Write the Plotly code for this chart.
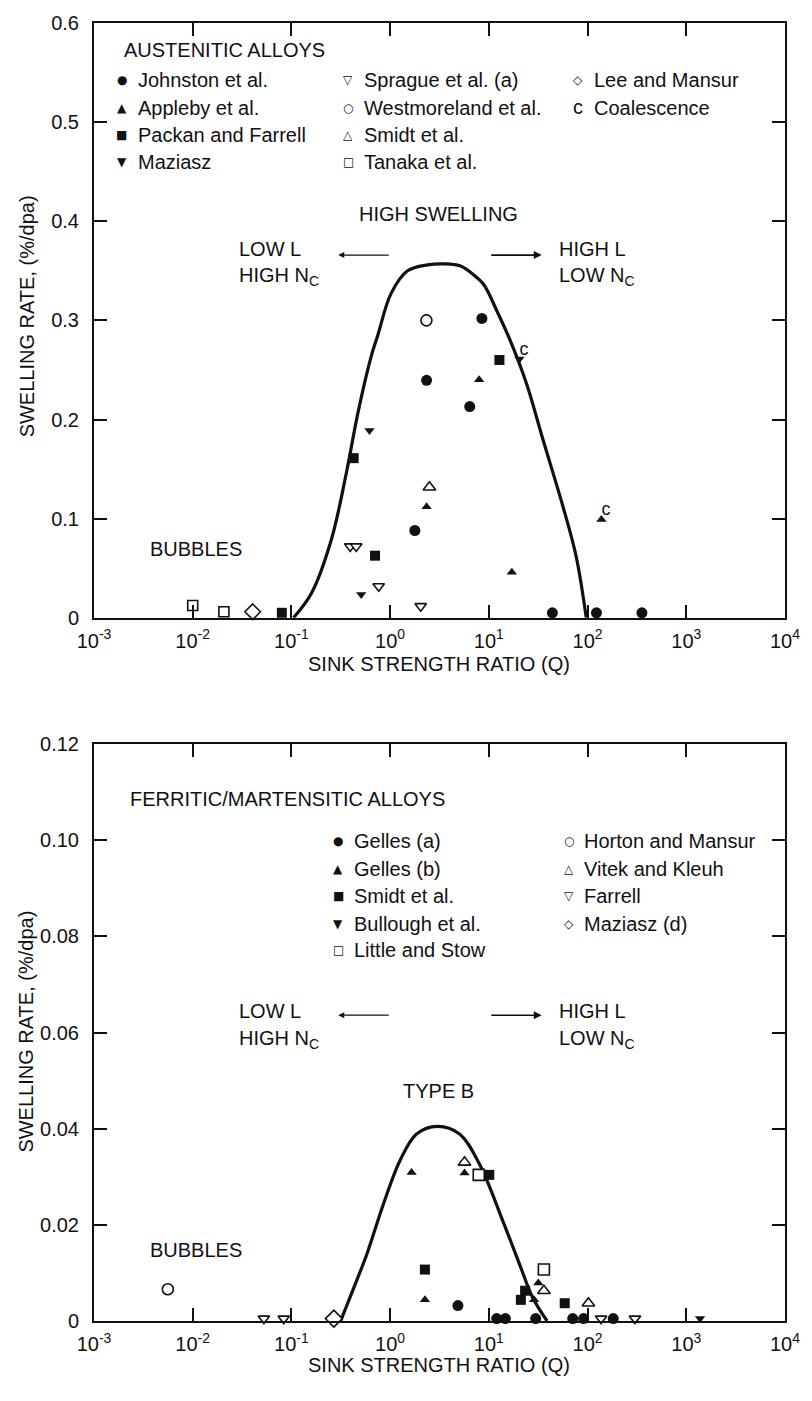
import plotly.graph_objects as go

# ---------------- Austenitic alloys (upper panel) ----------------
johnston_q = [1.78, 2.34, 6.4, 8.5, 44, 123, 355]
johnston_y = [0.088, 0.2395, 0.213, 0.302, 0.005, 0.005, 0.005]
appleby_q = [2.34, 7.97, 17.1, 138]
appleby_y = [0.112, 0.24, 0.046, 0.099]
packan_q = [0.08, 0.427, 0.703, 12.8]
packan_y = [0.005, 0.161, 0.0626, 0.26]
maziasz_q = [0.509, 0.618, 20.4]
maziasz_y = [0.0234, 0.189, 0.261]
sprague_q = [0.394, 0.453, 0.766, 2.04]
sprague_y = [0.072, 0.072, 0.0318, 0.0117]
westmoreland_q = [2.33]
westmoreland_y = [0.30]
smidt_a_q = [2.5]
smidt_a_y = [0.1317]
tanaka_q = [0.01, 0.0207]
tanaka_y = [0.0124, 0.006]
lee_q = [0.0405]
lee_y = [0.006]
coalescence_q = [20.4, 138]
coalescence_y = [0.261, 0.099]

high_swelling_q = [0.105, 0.16, 0.254, 0.36, 0.47, 0.64, 0.75, 1.02, 1.5, 2.4,
                   3.5, 5.1, 7.0, 8.9, 12.0, 16.4, 24.1, 35.5, 56.4, 76.6, 97]
high_swelling_y = [0, 0.025, 0.079, 0.146, 0.206, 0.263, 0.285, 0.327, 0.35, 0.356,
                   0.357, 0.355, 0.346, 0.336, 0.31, 0.28, 0.236, 0.179, 0.112, 0.062, 0.0]

# ---------------- Ferritic/martensitic alloys (lower panel) ----------------
gelles_a_q = [4.86, 12, 14.7, 29.8, 70.7, 91.2, 182]
gelles_a_y = [0.0032, 0.0005, 0.0005, 0.0005, 0.0005, 0.0005, 0.0005]
gelles_b_q = [1.65, 2.25, 5.67, 28.7, 31.7]
gelles_b_y = [0.0309, 0.0044, 0.0308, 0.0044, 0.0079]
smidt_b_q = [2.25, 10.1, 21.1, 23.3, 58.7]
smidt_b_y = [0.0107, 0.0304, 0.0044, 0.0063, 0.0037]
bullough_q = [1380]
bullough_y = [0.0005]
little_q = [7.9, 36.1]
little_y = [0.0304, 0.0107]
horton_q = [0.0056]
horton_y = [0.0066]
vitek_q = [5.67, 36.1, 102]
vitek_y = [0.0330, 0.0063, 0.0037]
farrell_q = [0.0526, 0.0835, 137, 302]
farrell_y = [0.0005, 0.0005, 0.0005, 0.0005]
maziasz_d_q = [0.269]
maziasz_d_y = [0.0005]

type_b_q = [0.315, 0.428, 0.583, 0.857, 1.26, 1.85, 3.0, 5.05, 8.0, 13.8, 20.3, 27.6, 38.9]
type_b_y = [0, 0.0069, 0.014, 0.0244, 0.0334, 0.0389, 0.0405, 0.0389, 0.0327, 0.0209,
            0.012, 0.005, 0]

decades = [-3, -2, -1, 0, 1, 2, 3, 4]
decade_labels = [f"10<sup>{d}</sup>" for d in decades]
top_yticks = [0, 0.1, 0.2, 0.3, 0.4, 0.5, 0.6]
top_ylabels = ["0", "0.1", "0.2", "0.3", "0.4", "0.5", "0.6"]
bot_yticks = [0, 0.02, 0.04, 0.06, 0.08, 0.10, 0.12]
bot_ylabels = ["0", "0.02", "0.04", "0.06", "0.08", "0.10", "0.12"]

FONT = "Liberation Sans, Arial, sans-serif"
INK = "#111111"
FS = 20

W, H = 812, 1401
ML, MR, MT, MB = 94, 22, 18, 80


def px(x):
    return (x - ML) / (W - ML - MR)


def py(y):
    return (H - MB - y) / (H - MT - MB)


fig = go.Figure()

FILLED = dict(color=INK)
OPEN = dict(color="white", line=dict(color=INK, width=1.6))


def pts(q, y, symbol, size, style, xa="x", ya="y"):
    m = dict(symbol=symbol, size=size, **style)
    fig.add_trace(go.Scatter(x=q, y=y, mode="markers", marker=m,
                             xaxis=xa, yaxis=ya, showlegend=False, cliponaxis=False))


# curves first so markers sit on top
fig.add_trace(go.Scatter(x=high_swelling_q, y=high_swelling_y, mode="lines",
                         line=dict(color=INK, width=3.2, shape="spline", smoothing=1.0),
                         xaxis="x", yaxis="y", showlegend=False))
fig.add_trace(go.Scatter(x=type_b_q, y=type_b_y, mode="lines",
                         line=dict(color=INK, width=3.2, shape="spline", smoothing=1.0),
                         xaxis="x2", yaxis="y2", showlegend=False))

pts(johnston_q, johnston_y, "circle", 11, FILLED)
pts(appleby_q, appleby_y, "triangle-up", 9, FILLED)
pts(packan_q, packan_y, "square", 10, FILLED)
pts(maziasz_q, maziasz_y, "triangle-down", 9, FILLED)
pts(sprague_q, sprague_y, "triangle-down", 10, OPEN)
pts(westmoreland_q, westmoreland_y, "circle", 11, OPEN)
pts(smidt_a_q, smidt_a_y, "triangle-up", 11, OPEN)
pts(tanaka_q, tanaka_y, "square", 10, OPEN)
pts(lee_q, lee_y, "diamond", 12, OPEN)
fig.add_trace(go.Scatter(x=coalescence_q, y=coalescence_y, mode="text", text=["c", "c"],
                         textposition="top right",
                         textfont=dict(family=FONT, size=18, color=INK),
                         xaxis="x", yaxis="y", showlegend=False))

pts(gelles_a_q, gelles_a_y, "circle", 11, FILLED, "x2", "y2")
pts(gelles_b_q, gelles_b_y, "triangle-up", 9, FILLED, "x2", "y2")
pts(smidt_b_q, smidt_b_y, "square", 10, FILLED, "x2", "y2")
pts(bullough_q, bullough_y, "triangle-down", 9, FILLED, "x2", "y2")
pts(little_q, little_y, "square", 11, OPEN, "x2", "y2")
pts(horton_q, horton_y, "circle", 11, OPEN, "x2", "y2")
pts(vitek_q, vitek_y, "triangle-up", 11, OPEN, "x2", "y2")
pts(farrell_q, farrell_y, "triangle-down", 10, OPEN, "x2", "y2")
pts(maziasz_d_q, maziasz_d_y, "diamond", 13, OPEN, "x2", "y2")

annotations = []


def text(x, y, s, size=FS, anchor="left", angle=0):
    annotations.append(dict(x=px(x), y=py(y), xref="paper", yref="paper", text=s,
                            showarrow=False, xanchor=anchor, yanchor="middle",
                            textangle=angle, font=dict(family=FONT, size=size, color=INK)))


def glyph(x, y, s, size=12):
    annotations.append(dict(x=px(x), y=py(y), xref="paper", yref="paper", text=s,
                            showarrow=False, xanchor="center", yanchor="middle",
                            font=dict(family="DejaVu Sans", size=size, color=INK)))


def arrow(x_head, x_tail, y, width=1.5):
    annotations.append(dict(x=px(x_head), y=py(y), xref="paper", yref="paper", text="",
                            showarrow=True, arrowhead=2, arrowsize=1.0, arrowwidth=width,
                            arrowcolor=INK, ax=x_tail - x_head, ay=0))


# upper panel text
text(122, 45, "AUSTENITIC ALLOYS")
top_legend = [
    (122, 136, 75, "●", "Johnston et al."),
    (122, 136, 103, "▲", "Appleby et al."),
    (122, 136, 130, "■", "Packan and Farrell"),
    (122, 136, 158, "▼", "Maziasz"),
    (350, 364, 75, "▽", "Sprague et al. (a)"),
    (350, 364, 103, "○", "Westmoreland et al."),
    (350, 364, 130, "△", "Smidt et al."),
    (350, 364, 158, "□", "Tanaka et al."),
    (582, 596, 75, "◇", "Lee and Mansur"),
]
for gx, tx, ty, g, s in top_legend:
    glyph(gx, ty, g)
    text(tx, ty, s)
text(582, 102, "c", anchor="center")
text(596, 103, "Coalescence")
text(441, 210, "HIGH SWELLING", anchor="center")
text(238, 245, "LOW L")
text(238, 272, "HIGH N<sub>C</sub>")
text(560, 245, "HIGH L")
text(560, 272, "LOW N<sub>C</sub>")
arrow(340, 392, 251, 1.2)
arrow(545, 493, 251, 1.6)
text(148, 546, "BUBBLES")
text(26, 312, "SWELLING RATE, (%/dpa)", anchor="center", angle=-90)
text(441, 661, "SINK STRENGTH RATIO (Q)", anchor="center")

# lower panel text
text(128, 797, "FERRITIC/MARTENSITIC ALLOYS")
bot_legend = [
    (340, 354, 839, "●", "Gelles (a)"),
    (340, 354, 867, "▲", "Gelles (b)"),
    (340, 354, 894, "■", "Smidt et al."),
    (340, 354, 922, "▼", "Bullough et al."),
    (340, 354, 949, "□", "Little and Stow"),
    (572, 586, 839, "○", "Horton and Mansur"),
    (572, 586, 867, "△", "Vitek and Kleuh"),
    (572, 586, 894, "▽", "Farrell"),
    (572, 586, 922, "◇", "Maziasz (d)"),
]
for gx, tx, ty, g, s in bot_legend:
    glyph(gx, ty, g)
    text(tx, ty, s)
text(238, 1010, "LOW L")
text(238, 1038, "HIGH N<sub>C</sub>")
text(560, 1010, "HIGH L")
text(560, 1038, "LOW N<sub>C</sub>")
arrow(340, 392, 1014, 1.2)
arrow(545, 493, 1014, 1.6)
text(441, 1090, "TYPE B", anchor="center")
text(148, 1250, "BUBBLES")
text(26, 1030, "SWELLING RATE, (%/dpa)", anchor="center", angle=-90)
text(441, 1365, "SINK STRENGTH RATIO (Q)", anchor="center")

axis_common = dict(showgrid=False, zeroline=False, showline=True, linecolor=INK,
                   linewidth=2, mirror="ticks", ticks="inside", ticklen=13,
                   tickwidth=1.5, tickcolor=INK,
                   tickfont=dict(family=FONT, size=FS, color=INK))

fig.update_layout(
    width=W, height=H,
    margin=dict(l=ML, r=MR, t=MT, b=MB),
    paper_bgcolor="white", plot_bgcolor="white",
    showlegend=False,
    annotations=annotations,
    xaxis=dict(type="log", range=[-3, 4], tickvals=[10 ** d for d in decades],
               ticktext=decade_labels, anchor="y", domain=[0, 1],
               ticklabelstandoff=4, **axis_common),
    yaxis=dict(range=[0, 0.6], tickvals=top_yticks, ticktext=top_ylabels,
               anchor="x", domain=[0.5418, 1], ticklabelstandoff=9, **axis_common),
    xaxis2=dict(type="log", range=[-3, 4], tickvals=[10 ** d for d in decades],
                ticktext=decade_labels, anchor="y2", domain=[0, 1],
                ticklabelstandoff=4, **axis_common),
    yaxis2=dict(range=[0, 0.12], tickvals=bot_yticks, ticktext=bot_ylabels,
                anchor="x2", domain=[0, 0.4444], ticklabelstandoff=9, **axis_common),
)

fig.write_html("out.html")
